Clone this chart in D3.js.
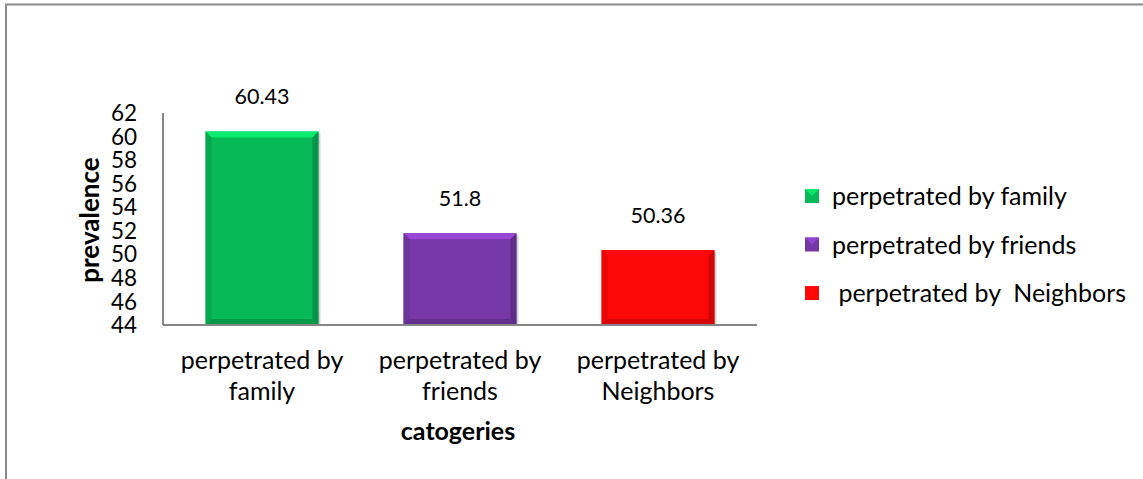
<!DOCTYPE html>
<html>
<head>
<meta charset="utf-8">
<script src="https://cdn.jsdelivr.net/npm/d3@7"></script>
<style>
  body{margin:0;background:#fff;}
  svg text{font-family:Lato,"Open Sans",sans-serif;fill:#000;}
</style>
</head>
<body>
<div id="chart"></div>
<script>
// data
var categories = ["perpetrated by family","perpetrated by friends","perpetrated by Neighbors"];
var values = [60.43, 51.8, 50.36];
var valueLabels = ["60.43","51.8","50.36"];
var legendLabels = ["perpetrated by family","perpetrated by friends"," perpetrated by  Neighbors"];
var colors = ["#08b957","#7638a7","#fe0707"];
var yTicks = [44,46,48,50,52,54,56,58,60,62];

var W = 1143, H = 479;
var svg = d3.select("#chart").append("svg")
  .attr("width", W).attr("height", H);

// outer frame (top and left edges show)
svg.append("path")
  .attr("d","M6,"+H+" V4.5 H"+W)
  .attr("fill","none").attr("stroke","#8a8a8a").attr("stroke-width",2);

var x = d3.scaleBand().domain(categories).range([163,757])
  .paddingInner(0.43).paddingOuter(0.215);
var y = d3.scaleLinear().domain([44,62]).range([325,113]);

// y axis line
svg.append("line").attr("x1",163).attr("x2",163)
  .attr("y1",y(62)).attr("y2",y(44)).attr("stroke","#868686").attr("stroke-width",2);

// y tick labels
svg.selectAll(".ytick").data(yTicks).enter().append("text")
  .attr("class","ytick")
  .attr("x",137).attr("y",function(d){return y(d);})
  .attr("dy","0.36em").attr("text-anchor","end")
  .style("font-size","22.5px")
  .text(String);

// bars with a bevel look
var bev = 6;
var bars = svg.selectAll(".bar").data(values).enter().append("g").attr("class","bar");
bars.each(function(v,i){
  var g = d3.select(this);
  var x0 = x(categories[i]), x1 = x0 + x.bandwidth();
  var y0 = y(v), y1 = y(44);
  var c = d3.color(colors[i]);
  // shadow
  g.append("rect").attr("x",x0+2).attr("y",y0+2).attr("width",x.bandwidth())
    .attr("height",y1-y0-2).attr("fill","#000").attr("opacity",0.18);
  g.append("rect").attr("x",x0).attr("y",y0).attr("width",x.bandwidth())
    .attr("height",y1-y0).attr("fill",colors[i]);
  // top bevel
  g.append("polygon")
    .attr("points",[[x0,y0],[x1,y0],[x1-bev,y0+bev],[x0+bev,y0+bev]].join(" "))
    .attr("fill",c.brighter(0.7));
  // left bevel
  g.append("polygon")
    .attr("points",[[x0,y0],[x0+bev,y0+bev],[x0+bev,y1-bev],[x0,y1]].join(" "))
    .attr("fill",c.darker(0.25));
  // right bevel
  g.append("polygon")
    .attr("points",[[x1,y0],[x1-bev,y0+bev],[x1-bev,y1-bev],[x1,y1]].join(" "))
    .attr("fill",c.darker(0.6));
  // bottom bevel
  g.append("polygon")
    .attr("points",[[x0,y1],[x0+bev,y1-bev],[x1-bev,y1-bev],[x1,y1]].join(" "))
    .attr("fill",c.darker(0.5));
});

// x axis line
svg.append("line").attr("x1",163).attr("x2",757)
  .attr("y1",y(44)).attr("y2",y(44)).attr("stroke","#868686").attr("stroke-width",2);

// value labels
svg.selectAll(".vlabel").data(values).enter().append("text")
  .attr("class","vlabel")
  .attr("x",function(d,i){return x(categories[i]) + x.bandwidth()/2;})
  .attr("y",function(d){return y(d) - 35;})
  .attr("dy","0.36em").attr("text-anchor","middle")
  .style("font-size","21.5px")
  .text(function(d,i){return valueLabels[i];});

// category labels, two lines
categories.forEach(function(c,i){
  var k = c.lastIndexOf(" ");
  var cx = x(c) + x.bandwidth()/2;
  var t = svg.append("text").attr("text-anchor","middle").style("font-size","25px");
  t.append("tspan").attr("x", cx).attr("y",369).text(c.slice(0,k));
  t.append("tspan").attr("x", cx).attr("y",400).text(c.slice(k+1));
});

// axis titles
svg.append("text").attr("x",458).attr("y",440).attr("text-anchor","middle")
  .style("font-size","25px").style("font-weight","bold").text("catogeries");
svg.append("text").attr("transform","translate(99,220) rotate(-90)")
  .attr("text-anchor","middle")
  .style("font-size","26px").style("font-weight","bold").text("prevalence");

// legend
var leg = svg.selectAll(".leg").data(legendLabels).enter().append("g")
  .attr("class","leg")
  .attr("transform",function(d,i){return "translate(805,"+(196+i*48.5)+")";});
leg.append("rect").attr("x",0).attr("y",-7).attr("width",14).attr("height",14)
  .attr("fill",function(d,i){return colors[i];});
leg.append("polygon").attr("points","0,-7 14,-7 7,0")
  .attr("fill",function(d,i){return d3.color(colors[i]).brighter(0.6);});
leg.append("text").attr("x",27).attr("dy","0.36em")
  .attr("xml:space","preserve").style("white-space","pre")
  .style("font-size","25px").text(String);
</script>
</body>
</html>
